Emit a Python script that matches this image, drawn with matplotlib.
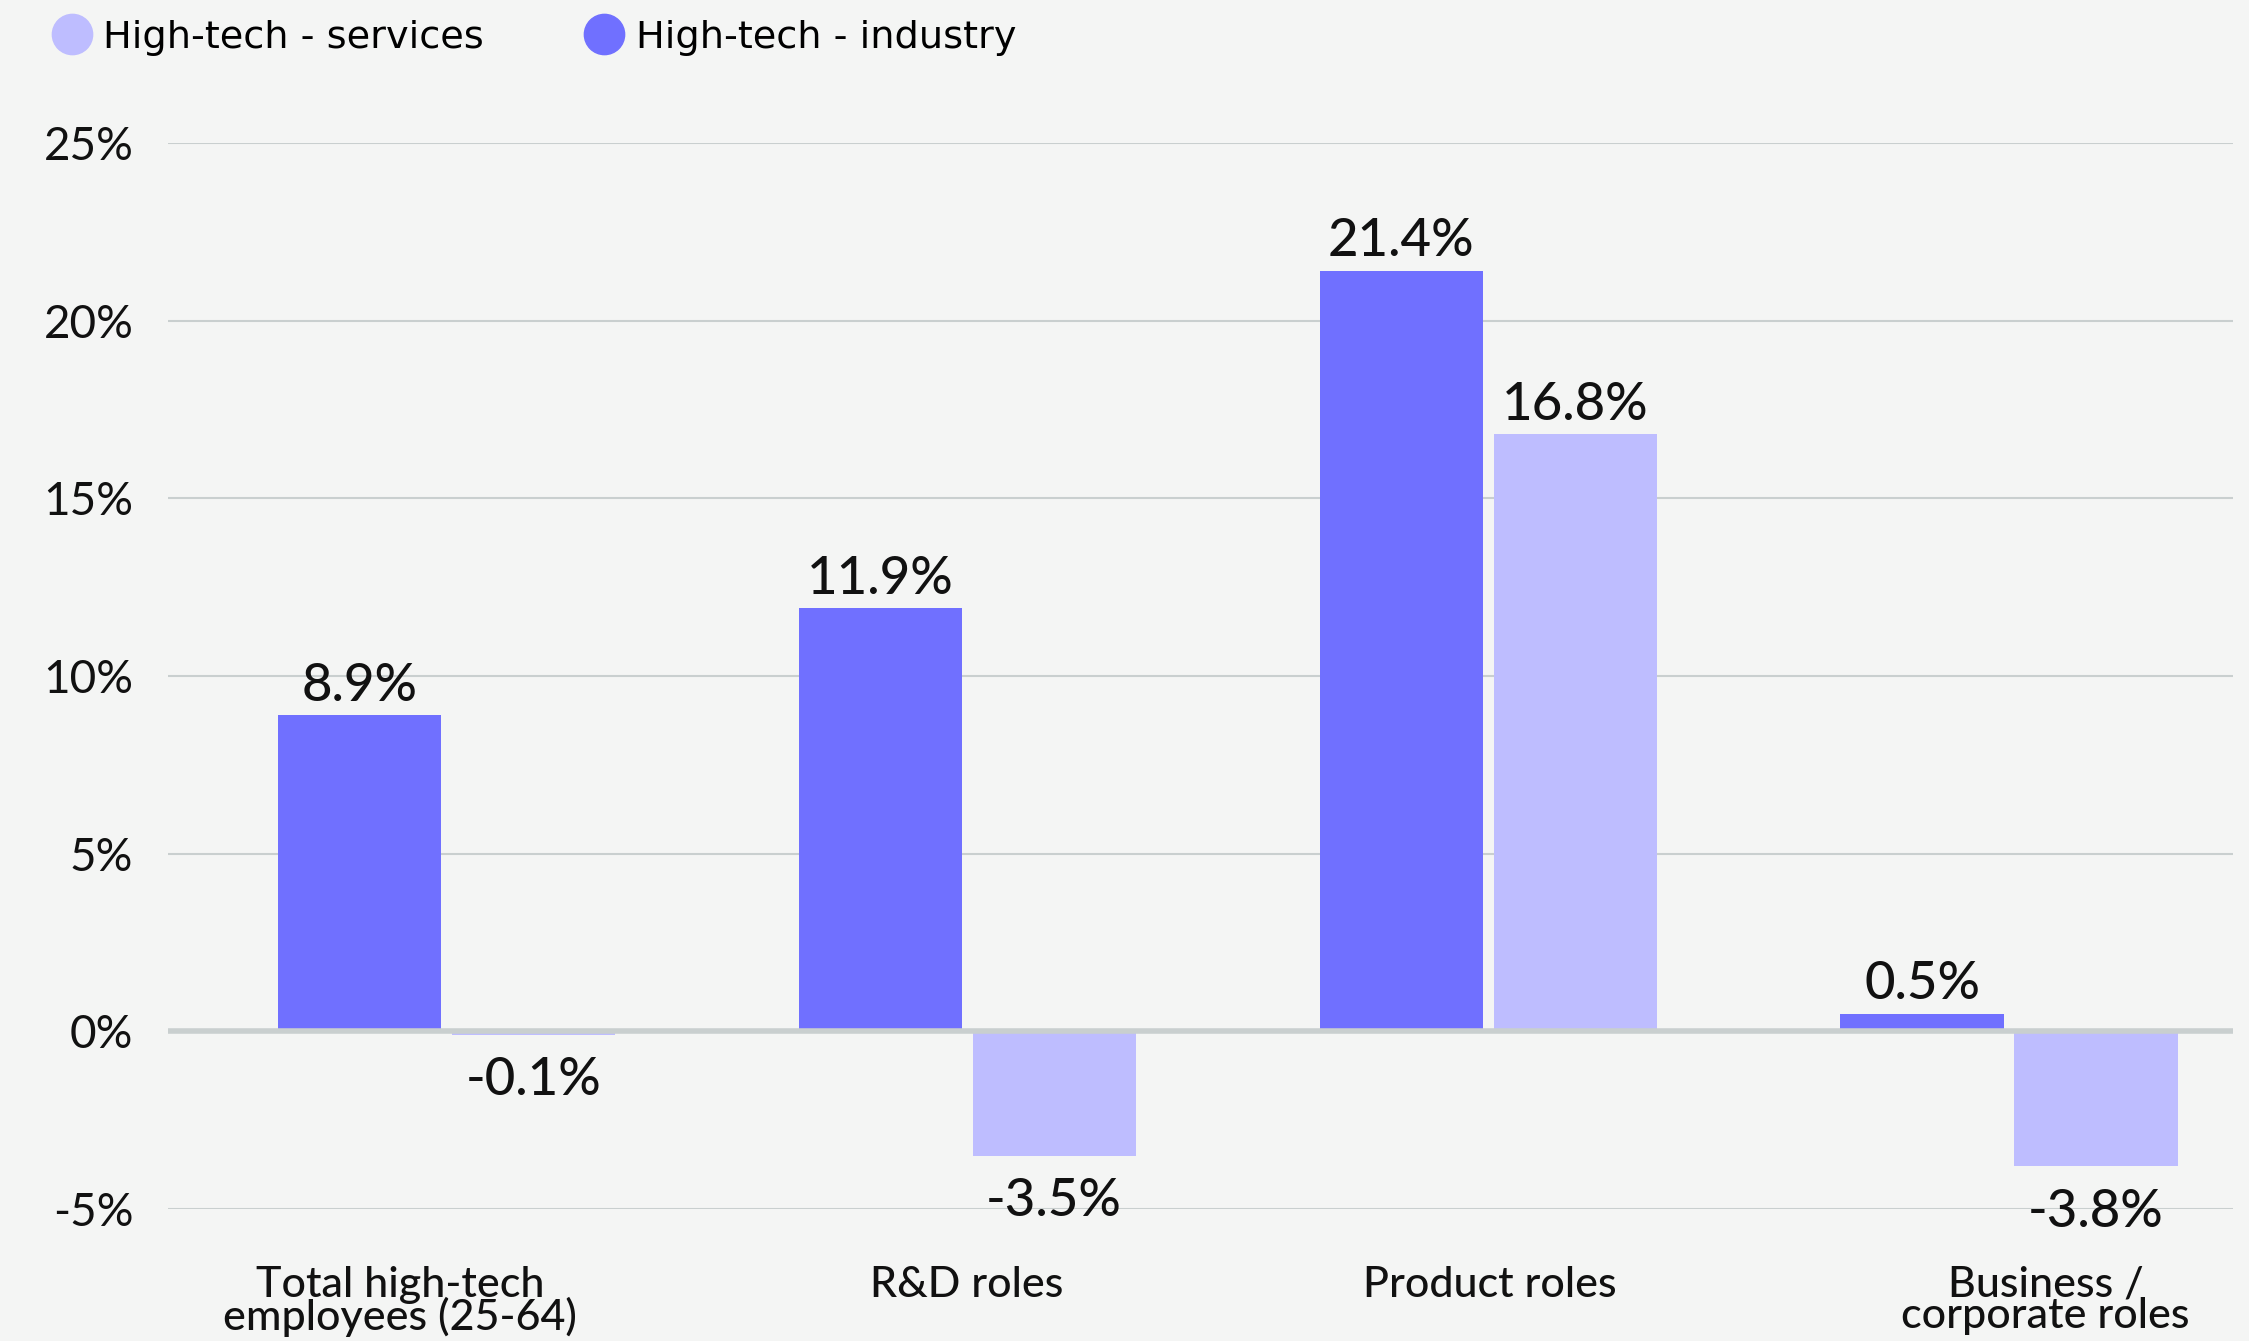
import matplotlib
matplotlib.use("Agg")
import matplotlib.pyplot as plt
from matplotlib.lines import Line2D
import matplotlib.transforms as mtransforms

# Employment change by role type, high-tech industry vs services
categories = ["Total high-tech\nemployees (25-64)", "R&D roles",
              "Product roles", "Business /\ncorporate roles"]
industry = [8.9, 11.9, 21.4, 0.5]
services = [-0.1, -3.5, 16.8, -3.8]
yticks = [-5, 0, 5, 10, 15, 20, 25]

BG = "#f4f5f4"
IND, SRV = "#7070ff", "#bebdff"
GRID = "#c9cfcf"
FONT = "Lato"

fig = plt.figure(figsize=(22.49, 13.41), dpi=100, facecolor=BG)
ax = fig.add_axes([0.0747, 0.0984, 0.9182, 0.7950], facecolor=BG)

w = 0.313
off = 0.167
x = list(range(len(categories)))
b1 = ax.bar([i - off for i in x], industry, width=w, color=IND, zorder=3)
b2 = ax.bar([i + off for i in x], services, width=w, color=SRV, zorder=3)

ax.set_xlim(-0.534, 3.43)
ax.set_ylim(-5, 25)

for t in yticks:
    ax.axhline(t, color=GRID, lw=4 if t == 0 else 1.5, zorder=4 if t == 0 else 1)

# value labels above / below the bars
for bars, vals in ((b1, industry), (b2, services)):
    for b, v in zip(bars, vals):
        cx = b.get_x() + b.get_width() / 2
        if v >= 0:
            ax.annotate(f"{v}%", (cx, v), xytext=(0, 4), textcoords="offset points",
                        ha="center", va="bottom", fontsize=38, family=FONT,
                        weight="medium", color="#111111", zorder=5)
        else:
            ax.annotate(f"{v}%", (cx, v), xytext=(0, -16), textcoords="offset points",
                        ha="center", va="top", fontsize=38, family=FONT,
                        weight="medium", color="#111111", zorder=5)

ax.set_yticks(yticks)
ax.set_yticklabels([f"{t}%" for t in yticks], fontsize=33, family=FONT, color="#111111")
ax.tick_params(axis="y", length=0, pad=25)
ax.set_xticks([])
for s in ax.spines.values():
    s.set_visible(False)

# category labels, nudged so the wrapped ones sit clear of the edges
shift = [-0.088, 0.0, 0.004, 0.07]
trans = mtransforms.blended_transform_factory(ax.transData, ax.transAxes)
for i, (lab, dx) in enumerate(zip(categories, shift)):
    ax.text(i + dx, -0.053, lab, transform=trans, ha="center", va="top",
            fontsize=31, family=FONT, weight="medium", linespacing=0.8,
            color="#111111")

handles = [Line2D([], [], ls="none", marker="o", markersize=29, color=SRV,
                  label="High-tech - services"),
           Line2D([], [], ls="none", marker="o", markersize=29, color=IND,
                  label="High-tech - industry")]
fig.legend(handles=handles, loc="center left", bbox_to_anchor=(0.0218, 0.972),
           ncol=2, frameon=False, borderpad=0, borderaxespad=0, handlelength=1.2,
           handletextpad=0.22, columnspacing=2.55,
           prop={"family": "DejaVu Sans", "size": 27.5})

fig.savefig("out.png", dpi=100, facecolor=BG)
